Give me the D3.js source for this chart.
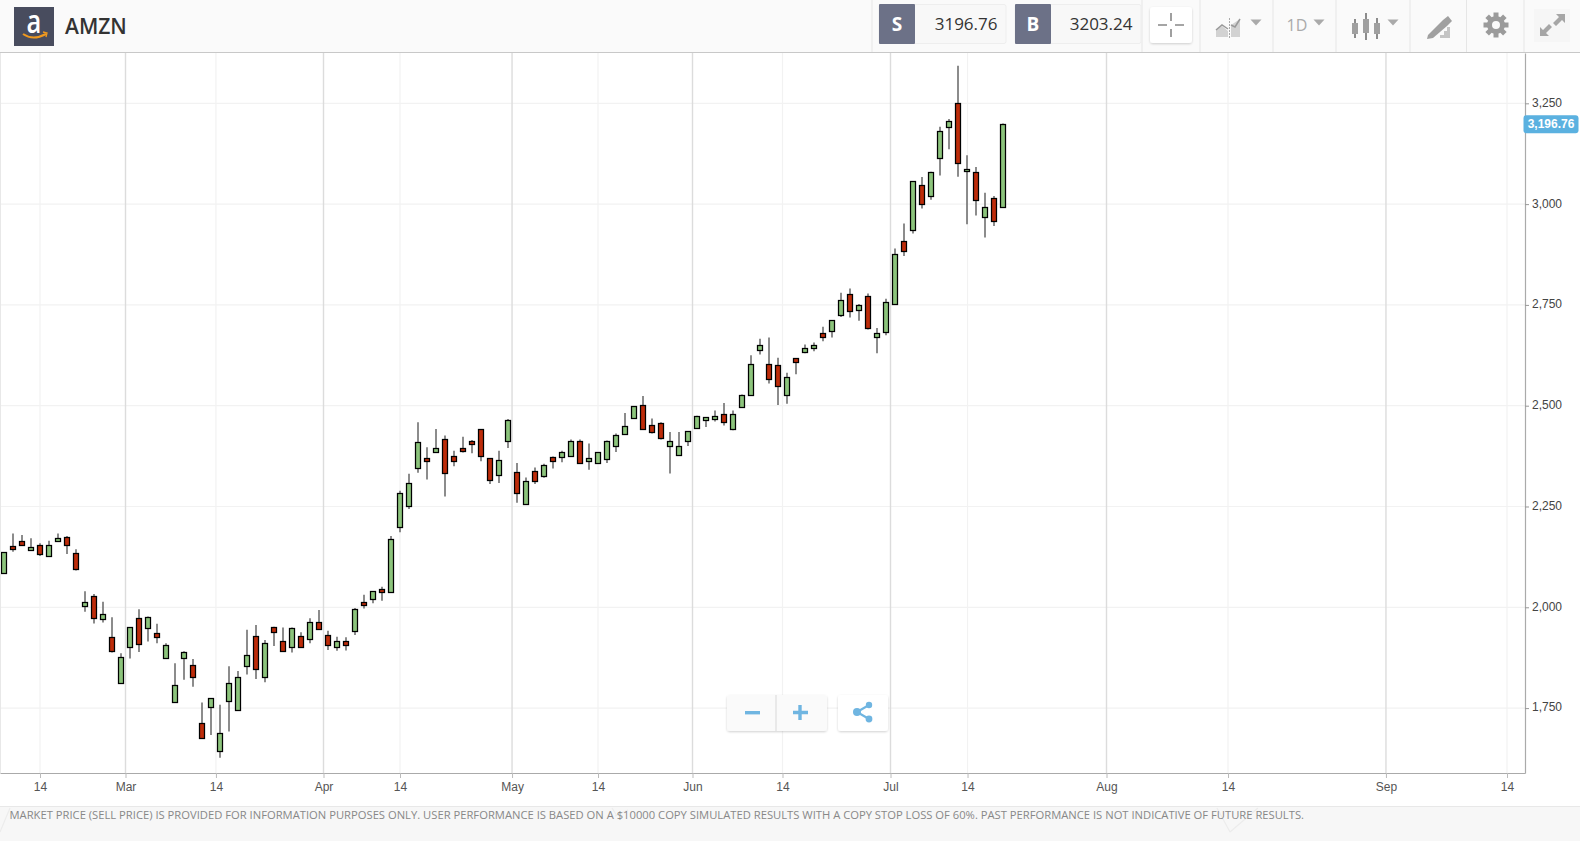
<!DOCTYPE html>
<html>
<head>
<meta charset="utf-8">
<script src="https://cdn.jsdelivr.net/npm/d3@7"></script>
<style>
  html, body { margin: 0; padding: 0; background: #fff; overflow: hidden; }
  svg { display: block; }
</style>
</head>
<body>
<div id="chart"></div>
<script>
// Candle values, one entry per trading day
const opens = [2086,2151,2163,2141,2154,2126,2164,2173,2134,2002,2026,1972,1926,1813,1902,1973,1948,1934,1874,1765,
  1874,1856,1711,1752,1643,1768,1746,1855,1928,1827,1949,1915,1902,1928,1921,1962,1931,1902,1915,1942,
  2013,2021,2044,2038,2198,2252,2345,2370,2386,2415,2373,2395,2412,2440,2368,2328,2412,2334,2255,2337,
  2326,2371,2373,2375,2411,2362,2359,2368,2401,2431,2470,2500,2452,2455,2401,2378,2412,2445,2465,2468,
  2477,2442,2498,2527,2637,2602,2599,2526,2617,2634,2642,2678,2685,2725,2777,2737,2771,2670,2682,2752,
  2908,2937,3047,3019,3115,3191,3250,3082,3079,2969,3014,2994];
const highs = [2135,2183,2179,2171,2159,2165,2183,2177,2144,2040,2033,2014,1975,1886,1950,1995,1977,1959,1911,1861,
  1891,1872,1764,1775,1758,1854,1842,1944,1956,1919,1952,1950,1950,1938,1973,1993,1942,1927,1926,1998,
  2031,2040,2051,2177,2289,2331,2459,2397,2442,2426,2388,2423,2415,2442,2370,2388,2467,2358,2322,2347,
  2356,2374,2388,2416,2416,2406,2385,2414,2431,2482,2498,2524,2468,2459,2435,2435,2436,2475,2472,2488,
  2507,2488,2528,2625,2666,2669,2619,2582,2617,2652,2657,2696,2711,2780,2791,2752,2778,2693,2765,2890,
  2952,3057,3067,3080,3192,3211,3343,3121,3092,3028,3020,3200];
const lows = [2086,2138,2155,2140,2127,2126,2162,2132,2091,1989,1960,1962,1888,1812,1873,1889,1915,1911,1874,1764,
  1820,1803,1676,1683,1627,1692,1745,1833,1822,1814,1904,1890,1888,1901,1911,1945,1894,1892,1893,1931,
  1997,2010,2016,2038,2186,2244,2334,2317,2384,2275,2350,2384,2382,2362,2306,2308,2395,2259,2255,2306,
  2321,2344,2360,2373,2358,2341,2356,2358,2385,2431,2470,2442,2431,2416,2332,2378,2400,2445,2447,2461,
  2451,2439,2495,2526,2627,2555,2502,2505,2578,2630,2635,2660,2669,2720,2719,2711,2689,2630,2675,2750,
  2871,2927,2989,3011,3071,3136,3068,2950,2972,2917,2946,2994];
const closes = [2135,2145,2155,2149,2133,2154,2171,2154,2094,2012,1973,1982,1891,1876,1950,1908,1975,1927,1906,1806,
  1888,1827,1677,1775,1688,1811,1825,1881,1846,1909,1939,1891,1948,1902,1962,1947,1907,1915,1906,1995,
  2006,2038,2037,2167,2281,2306,2409,2364,2393,2333,2364,2388,2405,2375,2316,2364,2464,2283,2312,2314,
  2351,2362,2383,2411,2359,2368,2384,2410,2426,2449,2497,2443,2434,2420,2410,2399,2436,2474,2471,2474,
  2459,2479,2525,2602,2650,2566,2549,2570,2609,2642,2650,2670,2711,2762,2734,2749,2693,2678,2757,2875,
  2884,3057,3000,3079,3180,3206,3101,3087,3011,2992,2958,3196.76];

// Axis ticks, the x ones given in candle slots
const priceTicks = [1750, 2000, 2250, 2500, 2750, 3000, 3250];
const monthSlots = [13.5, 35.5, 56.45, 76.5, 98.5, 122.5, 153.55];
const monthLabels = ["Mar", "Apr", "May", "Jun", "Jul", "Aug", "Sep"];
const midSlots = [4, 23.55, 44, 66, 86.5, 107.06, 136, 167];

const sellPrice = "3196.76", buyPrice = "3203.24", lastLabel = "3,196.76", symbol = "AMZN", interval = "1D";
const disclaimer = "MARKET PRICE (SELL PRICE) IS PROVIDED FOR INFORMATION PURPOSES ONLY. USER PERFORMANCE IS BASED ON A $10000 COPY SIMULATED RESULTS WITH A COPY STOP LOSS OF 60%. PAST PERFORMANCE IS NOT INDICATIVE OF FUTURE RESULTS.";

const W = 1580, H = 841;
const plot = { left: 0, right: 1525, top: 53, bottom: 773 };
const axisFont = "'Liberation Sans', Arial, sans-serif";
const uiFont = "'Open Sans', 'Noto Sans', sans-serif";

const candles = opens.map((o, i) => ({ slot: i, open: o, high: highs[i], low: lows[i], close: closes[i] }));

const svg = d3.select("#chart").append("svg").attr("width", W).attr("height", H);
svg.append("rect").attr("width", W).attr("height", H).attr("fill", "#fff");

// Scales: one slot is 9px, first candle is centred at x=4
const x = d3.scaleLinear().domain([-4 / 9, 169]).range([plot.left, plot.right]);
const y = d3.scaleLinear().domain([1589, 3374.8]).range([plot.bottom, plot.top]);

// Grid
const grid = svg.append("g");
grid.selectAll(".hgrid").data(priceTicks).join("line")
  .attr("x1", plot.left).attr("x2", plot.right)
  .attr("y1", d => y(d)).attr("y2", d => y(d))
  .attr("stroke", "#f2f2f2").attr("stroke-width", 1.2);
grid.selectAll(".midgrid").data(midSlots).join("line")
  .attr("x1", d => x(d)).attr("x2", d => x(d))
  .attr("y1", plot.top).attr("y2", plot.bottom)
  .attr("stroke", "#f2f2f2").attr("stroke-width", 1.2);
grid.selectAll(".monthgrid").data(monthSlots).join("line")
  .attr("x1", d => x(d)).attr("x2", d => x(d))
  .attr("y1", plot.top).attr("y2", plot.bottom)
  .attr("stroke", "#dcdcdc").attr("stroke-width", 1.4);

// Candles, bodies snapped to the pixel grid so the borders stay sharp
const bodyTop = d => Math.floor(y(Math.max(d.open, d.close))) + 0.5;
const bodyBottom = d => Math.round(y(Math.min(d.open, d.close))) + 0.5;
const candle = svg.append("g").selectAll("g").data(candles).join("g");
candle.append("line")
  .attr("x1", d => x(d.slot)).attr("x2", d => x(d.slot))
  .attr("y1", d => y(d.high)).attr("y2", d => y(d.low))
  .attr("stroke", "#666").attr("stroke-width", 1.5);
candle.append("rect")
  .attr("x", d => x(d.slot) - 2.5)
  .attr("width", 5)
  .attr("y", bodyTop)
  .attr("height", d => Math.max(1, bodyBottom(d) - bodyTop(d)))
  .attr("fill", d => d.close >= d.open ? "#8cc47c" : "#bd2c0a")
  .attr("stroke", "#000").attr("stroke-width", 1.25);

// X axis
const allSlots = monthSlots.concat(midSlots);
const xAxis = svg.append("g")
  .attr("transform", "translate(0," + plot.bottom + ")")
  .call(d3.axisBottom(x).tickValues(allSlots).tickSizeInner(5).tickSizeOuter(0)
    .tickFormat(d => monthSlots.includes(d) ? monthLabels[monthSlots.indexOf(d)] : "14"));
xAxis.select(".domain").attr("stroke", "#aaa").attr("stroke-width", 1.2);
xAxis.selectAll("line").attr("stroke", "#bbb");
xAxis.selectAll("text").attr("font-family", axisFont).attr("font-size", 12).attr("fill", "#555").attr("y", 9);

// Y axis
const yAxis = svg.append("g")
  .attr("transform", "translate(" + plot.right + ",0)")
  .call(d3.axisRight(y).tickValues(priceTicks).tickSizeInner(4).tickSizeOuter(0).tickPadding(3).tickFormat(d3.format(",")));
yAxis.select(".domain").attr("stroke", "#aaa").attr("stroke-width", 1.2);
yAxis.selectAll("line").attr("stroke", "#999");
yAxis.selectAll("text").attr("font-family", axisFont).attr("font-size", 12).attr("fill", "#444").attr("dy", "0.24em");

// Last price tag
const lastY = y(closes[closes.length - 1]);
svg.append("rect").attr("x", 1523.5).attr("y", lastY - 9.5).attr("width", 55).attr("height", 18).attr("rx", 3)
  .attr("fill", "#5bb1e0");
svg.append("text").attr("x", 1551).attr("y", lastY - 0.5).attr("dy", "0.35em").attr("text-anchor", "middle")
  .attr("font-family", axisFont).attr("font-size", 12).attr("font-weight", "bold").attr("fill", "#fff")
  .text(lastLabel);

// Left edge shade
svg.append("rect").attr("x", 0).attr("y", plot.top).attr("width", 1).attr("height", plot.bottom - plot.top).attr("fill", "#e8e8e8");

// Header bar
const header = svg.append("g");
header.append("rect").attr("width", W).attr("height", 52).attr("fill", "#fafafa");
header.append("line").attr("x1", 0).attr("x2", W).attr("y1", 52.5).attr("y2", 52.5).attr("stroke", "#c8c8c8").attr("stroke-width", 1);
[872, 1142, 1200, 1273, 1336, 1410, 1466.5, 1524].forEach(sx => {
  header.append("line").attr("x1", sx).attr("x2", sx).attr("y1", 0).attr("y2", 52).attr("stroke", "#e6e6e6");
});

// Logo
header.append("rect").attr("x", 14).attr("y", 7).attr("width", 40).attr("height", 39).attr("fill", "#484c5e");
header.append("text").attr("transform", "translate(34,33) scale(0.8,1)").attr("text-anchor", "middle")
  .attr("font-family", uiFont).attr("font-weight", 600).attr("font-size", 32).attr("fill", "#fff").text("a");
header.append("path").attr("d", "M23 34 Q33 41 46 34").attr("fill", "none").attr("stroke", "#f0991e").attr("stroke-width", 2);
header.append("path").attr("d", "M43 32 L47 33 L46 37").attr("fill", "none").attr("stroke", "#f0991e").attr("stroke-width", 1.3);
header.append("text").attr("x", 65).attr("y", 33.5)
  .attr("font-family", uiFont).attr("font-weight", 600).attr("font-size", 21).attr("fill", "#333").text(symbol);

// Sell and buy boxes
function priceBox(left, right, letter, value) {
  header.append("rect").attr("x", left).attr("y", 4.5).attr("width", right - left).attr("height", 39).attr("rx", 2)
    .attr("fill", "#f8f8f8").attr("stroke", "#eeeeee");
  header.append("rect").attr("x", left).attr("y", 4).attr("width", 36).attr("height", 40).attr("rx", 1)
    .attr("fill", "#6c7187");
  header.append("text").attr("x", left + 18).attr("y", 31).attr("text-anchor", "middle")
    .attr("font-family", uiFont).attr("font-weight", 700).attr("font-size", 19).attr("fill", "#fff").text(letter);
  header.append("text").attr("x", right - 8.5).attr("y", 30).attr("text-anchor", "end")
    .attr("font-family", uiFont).attr("font-size", 17).attr("fill", "#333").text(value);
}
priceBox(879, 1006, "S", sellPrice);
priceBox(1015, 1141, "B", buyPrice);

// Crosshair button
svg.append("defs").append("filter").attr("id", "soft").attr("x", "-20%").attr("y", "-20%").attr("width", "140%").attr("height", "150%")
  .append("feDropShadow").attr("dx", 0).attr("dy", 1).attr("stdDeviation", 1).attr("flood-color", "#000").attr("flood-opacity", 0.18);
header.append("rect").attr("x", 1150).attr("y", 7).attr("width", 42).attr("height", 36).attr("rx", 3)
  .attr("fill", "#fff").attr("filter", "url(#soft)");
header.append("path").attr("d", "M1171 13V21M1171 29V37M1158 25H1167M1175 25H1184")
  .attr("stroke", "#888").attr("stroke-width", 1.6).attr("fill", "none");

// Toolbar icons
const iconGrey = "#aaaaaa";
function caret(cx) {
  header.append("path").attr("d", `M${cx - 5.5} 19.5H${cx + 5.5}L${cx} 25.5Z`).attr("fill", iconGrey);
}
header.append("path").attr("d", "M1216 37V30L1222 26L1228 31V37Z M1231 37V25L1240 19V37Z").attr("fill", "#d2d2d2");
header.append("path").attr("d", "M1216 30L1222 25L1228 29M1231 25L1235 27L1240 19").attr("fill", "none").attr("stroke", "#999").attr("stroke-width", 1.5);
header.append("line").attr("x1", 1229.5).attr("x2", 1229.5).attr("y1", 18).attr("y2", 38)
  .attr("stroke", "#aaa").attr("stroke-dasharray", "2 1");
caret(1256);
header.append("text").attr("x", 1297).attr("y", 31).attr("text-anchor", "middle")
  .attr("font-family", uiFont).attr("font-size", 16).attr("fill", iconGrey).text(interval);
caret(1319);
header.append("path").attr("d", "M1355 19V38M1366 13V40M1377 18V39").attr("stroke", "#8c8c8c").attr("stroke-width", 2).attr("fill", "none");
header.append("path").attr("d", "M1352 23h6v11h-6Z M1363 19h6v14h-6Z M1374 23h6v11h-6Z").attr("fill", "#a0a0a0");
caret(1393);
header.append("path").attr("d", "M1428 35L1443 20L1448 16L1452 21L1447 26L1433 38L1427 39Z").attr("fill", "#a0a0a0");
header.append("path").attr("d", "M1440 38V35H1444V31H1447V27H1450V38Z").attr("fill", "#c4c4c4");
const gearG = header.append("g").attr("transform", "translate(1496,25)");
d3.range(8).forEach(k => {
  gearG.append("rect").attr("x", -2.5).attr("y", -12.5).attr("width", 5).attr("height", 6)
    .attr("fill", "#9b9b9b").attr("transform", "rotate(" + k * 45 + ")");
});
gearG.append("circle").attr("r", 6.5).attr("fill", "none").attr("stroke", "#9b9b9b").attr("stroke-width", 5);
header.append("rect").attr("x", 1534).attr("y", 9).attr("width", 36).attr("height", 33).attr("fill", "#f6f6f6");
header.append("path").attr("d", "M1556 14H1565V23L1562 20L1556 26L1553 23L1559 17Z M1549 36H1540V27L1543 30L1549 24L1552 27L1546 33Z")
  .attr("fill", "#a6a6a6");

// Zoom and share buttons
const btnBlue = "#6fb5e1";
const controls = svg.append("g");
controls.append("rect").attr("x", 727).attr("y", 695).attr("width", 100).attr("height", 36).attr("rx", 3)
  .attr("fill", "#fafafa").attr("filter", "url(#soft)");
controls.append("line").attr("x1", 776).attr("x2", 776).attr("y1", 695).attr("y2", 731).attr("stroke", "#d8d8d8");
controls.append("rect").attr("x", 745).attr("y", 711).attr("width", 15).attr("height", 3.4).attr("fill", btnBlue);
controls.append("path").attr("d", "M800 705V720M793 712.5H808").attr("stroke", btnBlue).attr("stroke-width", 3.4);
controls.append("rect").attr("x", 838).attr("y", 695).attr("width", 50).attr("height", 36).attr("rx", 3)
  .attr("fill", "#fff").attr("filter", "url(#soft)");
controls.append("path").attr("d", "M869 705L857 712L869 719").attr("fill", "none").attr("stroke", btnBlue).attr("stroke-width", 2.2);
[[869, 705, 3.2], [857, 712, 4], [869, 719, 3.4]].forEach(c => {
  controls.append("circle").attr("cx", c[0]).attr("cy", c[1]).attr("r", c[2]).attr("fill", btnBlue);
});

// Footer
const footer = svg.append("g");
footer.append("rect").attr("y", 806).attr("width", W).attr("height", H - 806).attr("fill", "#f7f7f7");
footer.append("line").attr("x1", 0).attr("x2", W).attr("y1", 806.5).attr("y2", 806.5).attr("stroke", "#e8e8e8");
footer.append("path").attr("d", "M0 832L10 808M615 816L628 810M617 816L612 808M1230 832L1217 808M1230 832L1258 808")
  .attr("fill", "none").attr("stroke", "#ececec").attr("stroke-width", 1.2);
footer.append("text").attr("x", 9.5).attr("y", 819)
  .attr("font-family", uiFont).attr("font-size", 11.5).attr("fill", "#888")
  .attr("textLength", 1294.5).attr("lengthAdjust", "spacingAndGlyphs")
  .text(disclaimer);
</script>
</body>
</html>
